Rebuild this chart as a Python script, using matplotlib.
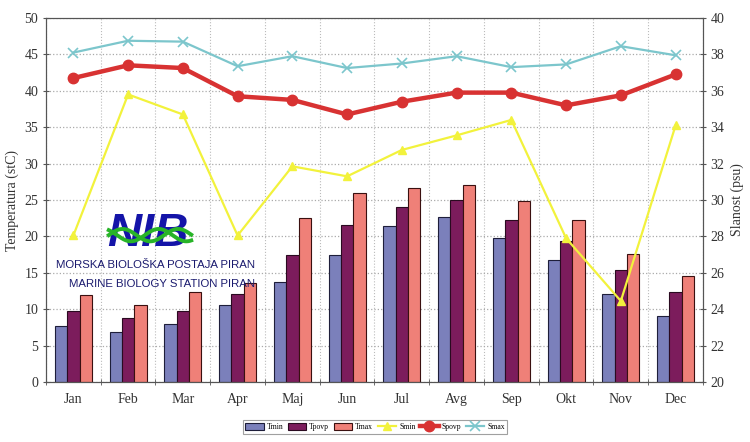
import numpy as np
import matplotlib
matplotlib.use('Agg')
import matplotlib.pyplot as plt

plt.rcParams['font.family'] = ['Liberation Serif', 'DejaVu Serif']

# ---------------------- 数据 ----------------------
months = ['Jan', 'Feb', 'Mar', 'Apr', 'Maj', 'Jun', 'Jul', 'Avg', 'Sep', 'Okt', 'Nov', 'Dec']
tmin = [7.7, 6.9, 8.0, 10.6, 13.7, 17.5, 21.4, 22.6, 19.8, 16.8, 12.1, 9.1]
tpovp = [9.7, 8.8, 9.7, 12.1, 17.5, 21.5, 24.1, 25.0, 22.2, 19.4, 15.4, 12.3]
tmax = [12.0, 10.6, 12.3, 13.6, 22.5, 25.9, 26.6, 27.1, 24.8, 22.2, 17.6, 14.5]
smin = [28.05, 35.8, 34.7, 28.05, 31.85, 31.3, 32.75, 33.55, 34.4, 27.9, 24.45, 34.1]
spovp = [36.7, 37.4, 37.25, 35.7, 35.5, 34.7, 35.4, 35.9, 35.9, 35.2, 35.75, 36.9]
smax = [38.1, 38.75, 38.7, 37.35, 37.9, 37.25, 37.5, 37.9, 37.3, 37.45, 38.45, 37.95]

x = np.arange(len(months))
w = 0.225

fig = plt.figure(figsize=(7.5, 4.42), dpi=100)
ax = fig.add_axes([0.0613, 0.1357, 0.876, 0.8236])

# 柱状图：温度
b1 = ax.bar(x - w, tmin, w, color='#7b80bb', edgecolor='#1e1e3a', linewidth=0.8, label='Tmin', zorder=2)
b2 = ax.bar(x, tpovp, w, color='#7c1c5c', edgecolor='#2a0a20', linewidth=0.8, label='Tpovp', zorder=2)
b3 = ax.bar(x + w, tmax, w, color='#ef8078', edgecolor='#3a1010', linewidth=0.8, label='Tmax', zorder=2)

ax.set_xlim(-0.5, len(months) - 0.5)
ax.set_ylim(0, 50)
ax.set_yticks(range(0, 51, 5))
ax.set_xticks(x)
ax.set_xticklabels(months)
ax.set_xticks(np.arange(-0.5, len(months), 1), minor=True)
ax.tick_params(axis='x', which='major', length=0, pad=8)
ax.tick_params(axis='x', which='minor', length=4, direction='inout', color='#555555')
ax.tick_params(axis='y', length=4, direction='inout', color='#555555')
ax.tick_params(labelsize=10, labelcolor='#333333')
ax.grid(True, axis='y', linestyle=':', color='#aaaaaa', linewidth=0.9, zorder=0)
ax.grid(True, axis='x', which='minor', linestyle=':', color='#bbbbbb', linewidth=0.8, zorder=0)
ax.set_ylabel('Temperatura (stC)', fontsize=10, color='#333333', labelpad=4)
for s in ax.spines.values():
    s.set_color('#555555')

# 折线：盐度
ax2 = ax.twinx()
l1, = ax2.plot(x, smin, color='#f2f23c', linewidth=1.6, marker='^', markersize=6, label='Smin')
l2, = ax2.plot(x, spovp, color='#d83232', linewidth=3.2, marker='o', markersize=7.5, label='Spovp')
l3, = ax2.plot(x, smax, color='#7cc6cc', linewidth=1.6, marker='x', markersize=7, mew=1.2, label='Smax')
ax2.set_ylim(20, 40)
ax2.set_yticks(range(20, 41, 2))
ax2.tick_params(axis='y', length=4, direction='inout', color='#555555', labelsize=10, labelcolor='#333333')
ax2.set_ylabel('Slanost (psu)', fontsize=10, color='#333333', labelpad=4, rotation=90)
for s in ax2.spines.values():
    s.set_color('#555555')

# 图例
leg = fig.legend(handles=[b1, b2, b3, l1, l2, l3], loc='lower center', ncol=6,
                 bbox_to_anchor=(0.5, 0.01), fontsize=5.5, frameon=True, fancybox=False,
                 handlelength=2.4, handleheight=0.9, handletextpad=0.4, columnspacing=0.6,
                 borderpad=0.35)
leg.get_frame().set_edgecolor('#888888')
leg.get_frame().set_linewidth(0.8)

# 标志
fig.text(0.197, 0.47, 'NIB', fontsize=34, fontweight='heavy', style='italic',
         color='#1414a8', family='Liberation Sans', ha='center', va='center', zorder=3)
tt = np.linspace(0.145, 0.255, 200)
fig.add_artist(plt.Line2D(tt, 0.468 + 0.014 * np.sin((tt - 0.145) * 85), color='#28b428', lw=2.8, zorder=4))
fig.add_artist(plt.Line2D(tt, 0.468 + 0.014 * np.sin((tt - 0.145) * 85 + 2.2), color='#28b428', lw=2.8, zorder=4))
fig.text(0.207, 0.4, 'MORSKA BIOLOŠKA POSTAJA PIRAN', fontsize=8.2, color='#1a1a6e',
         family='Liberation Sans', ha='center', va='center')
fig.text(0.216, 0.357, 'MARINE BIOLOGY STATION PIRAN', fontsize=8.2, color='#1a1a6e',
         family='Liberation Sans', ha='center', va='center')

fig.savefig('out.png', dpi=100)
